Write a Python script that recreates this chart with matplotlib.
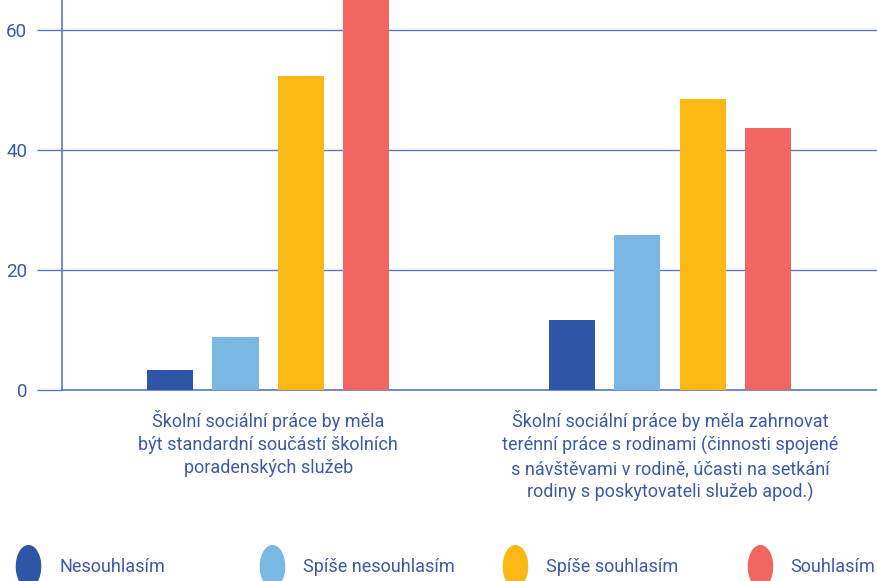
import matplotlib
matplotlib.use("Agg")
import matplotlib.pyplot as plt
from matplotlib.lines import Line2D
from matplotlib.path import Path
import numpy as np

plt.rcParams['font.family'] = ['Roboto', 'DejaVu Sans']

categories = [
    "Školní sociální práce by měla\nbýt standardní součástí školních\nporadenských služeb",
    "Školní sociální práce by měla zahrnovat\nterénní práce s rodinami (činnosti spojené\ns návštěvami v rodině, účasti na setkání\nrodiny s poskytovateli služeb apod.)",
]
series = ["Nesouhlasím", "Spíše nesouhlasím", "Spíše souhlasím", "Souhlasím"]
values = {
    "Nesouhlasím": [3.3, 11.7],
    "Spíše nesouhlasím": [8.8, 25.8],
    "Spíše souhlasím": [52.3, 48.5],
    "Souhlasím": [68.0, 43.7],
}
colors = ["#2f55a6", "#7ab7e2", "#fbb815", "#f26661"]
text_col = "#3a5aa8"
axis_col = "#5a77c0"

fig = plt.figure(figsize=(8.77, 5.81), dpi=100)
ax = fig.add_axes([62 / 877, 191 / 581, 1 - 62 / 877, 1 - 191 / 581])

x = np.arange(len(categories))
width = 0.115
step = 0.1625
for i, s in enumerate(series):
    ax.bar(x + (i - 1.5) * step, values[s], width, color=colors[i], zorder=3)

ax.set_xlim(-0.513, 1.515)
ax.set_ylim(0, 65)
ax.set_yticks([0, 20, 40, 60])
ax.yaxis.grid(True, color=axis_col, linewidth=1.0, zorder=0)
ax.tick_params(axis='y', length=18, width=1.0, color=axis_col, labelcolor=text_col,
               labelsize=13.5, pad=7)
ax.set_xticks([])
for side in ["top", "right"]:
    ax.spines[side].set_visible(False)
ax.spines["left"].set_color(axis_col)
ax.spines["bottom"].set_color(axis_col)
ax.spines["left"].set_linewidth(1.2)
ax.spines["bottom"].set_linewidth(1.2)

for xi, lab in zip(x, categories):
    ax.text(xi, -3.3, lab, ha="center", va="top", color=text_col, fontsize=13,
            linespacing=1.35, transform=ax.transData, clip_on=False)

# tall ellipse marker for legend
t = np.linspace(0, 2 * np.pi, 60)
ellipse = Path(np.column_stack([0.58 * np.cos(t), np.sin(t)]))

legend_x = [0.016, 0.294, 0.571, 0.850]
for c, s, lx in zip(colors, series, legend_x):
    h = Line2D([], [], marker=ellipse, linestyle="none", markersize=30,
               markerfacecolor=c, markeredgecolor=c)
    fig.legend([h], [s], loc="center left", bbox_to_anchor=(lx, 1 - 567 / 581),
               frameon=False, handletextpad=0.9, handlelength=1.6,
               labelcolor=text_col, fontsize=13, borderaxespad=0.0, borderpad=0.0)

fig.savefig("out.png", dpi=100)
